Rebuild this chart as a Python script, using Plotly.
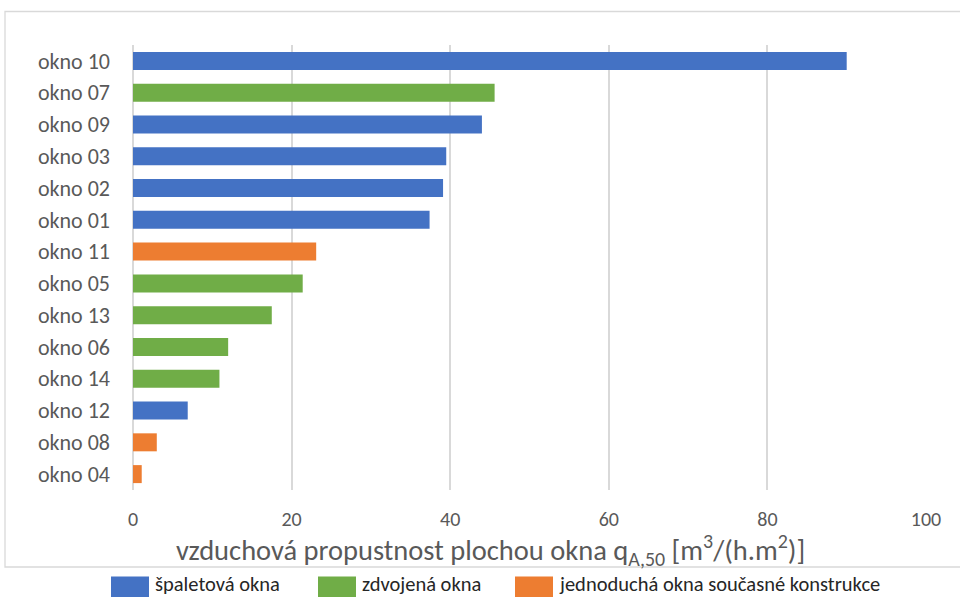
import plotly.graph_objects as go

# Air permeability per window area, q_A,50 [m3/(h.m2)]
windows = ["okno 10", "okno 07", "okno 09", "okno 03", "okno 02", "okno 01", "okno 11",
           "okno 05", "okno 13", "okno 06", "okno 14", "okno 12", "okno 08", "okno 04"]
values = [90.0, 45.6, 44.0, 39.5, 39.1, 37.4, 23.1, 21.4, 17.5, 12.0, 10.9, 6.9, 3.0, 1.1]
groups = ["š", "z", "š", "š", "š", "š", "j", "z", "z", "z", "z", "š", "j", "j"]

group_keys = ["š", "z", "j"]
group_names = {
    "š": "špaletová okna",
    "z": "zdvojená okna",
    "j": "jednoduchá okna současné konstrukce",
}
group_colors = {"š": "#4472C4", "z": "#70AD47", "j": "#ED7D31"}
x_ticks = [0, 20, 40, 60, 80, 100]
x_title = "vzduchová propustnost plochou okna q<sub>A,50</sub> [m<sup>3</sup>/(h.m<sup>2</sup>)]"

FONT = "Calibri, Carlito, Lato, sans-serif"
GREY = "#595959"

W, H = 960, 597
ML, MR, MT, MB = 133, 34, 45, 107
PW, PH = W - ML - MR, H - MT - MB


def px_x(px):
    """Pixel x -> paper x."""
    return (px - ML) / PW


def px_y(py):
    """Pixel y (from top) -> paper y."""
    return (H - MB - py) / PH


fig = go.Figure()
for g in group_keys:
    ys = [w for w, gg in zip(windows, groups) if gg == g]
    xs = [v for v, gg in zip(values, groups) if gg == g]
    fig.add_trace(go.Bar(
        y=ys, x=xs, orientation="h", name=group_names[g], showlegend=False,
        marker=dict(color=group_colors[g], line=dict(width=0)),
    ))

# outer chart frame
fig.add_shape(type="rect", xref="paper", yref="paper",
              x0=px_x(5), x1=px_x(965), y0=px_y(567), y1=px_y(11.5),
              line=dict(color="#D9D9D9", width=1.3), fillcolor="rgba(0,0,0,0)", layer="below")

# value-axis title, centred on the chart frame
fig.add_annotation(xref="paper", yref="paper", x=px_x(490), y=px_y(549.5),
                   xanchor="center", yanchor="middle", showarrow=False,
                   text=x_title, font=dict(size=28.5, color=GREY, family=FONT))

# legend below the frame: large colour swatches with labels
legend_x = {"š": 111, "z": 318, "j": 515}
for g in group_keys:
    x0 = legend_x[g]
    fig.add_shape(type="rect", xref="paper", yref="paper",
                  x0=px_x(x0), x1=px_x(x0 + 38), y0=px_y(597), y1=px_y(576.5),
                  line=dict(width=0), fillcolor=group_colors[g])
    fig.add_annotation(xref="paper", yref="paper", x=px_x(x0 + 42), y=px_y(584),
                       xanchor="left", yanchor="middle", showarrow=False,
                       text=group_names[g],
                       font=dict(size=20.5, color="#262626", family=FONT))

fig.update_layout(
    width=W, height=H,
    margin=dict(l=ML, r=MR, t=MT, b=MB),
    paper_bgcolor="white", plot_bgcolor="white",
    barmode="relative", bargap=0.434,
    font=dict(family=FONT, color=GREY, size=18),
    showlegend=False,
    xaxis=dict(range=[0, 100], tickvals=x_ticks, showgrid=True, gridcolor="#D9D9D9",
               gridwidth=1.6, zeroline=True, zerolinecolor="#D9D9D9", zerolinewidth=1.6,
               showline=False, ticks="", ticklabelstandoff=15,
               tickfont=dict(size=20, color=GREY, family=FONT)),
    yaxis=dict(categoryorder="array", categoryarray=windows, autorange="reversed",
               showgrid=False, showline=False, ticks="", ticklabelstandoff=22,
               tickfont=dict(size=22, color=GREY, family=FONT)),
)

fig.write_html("out.html")
